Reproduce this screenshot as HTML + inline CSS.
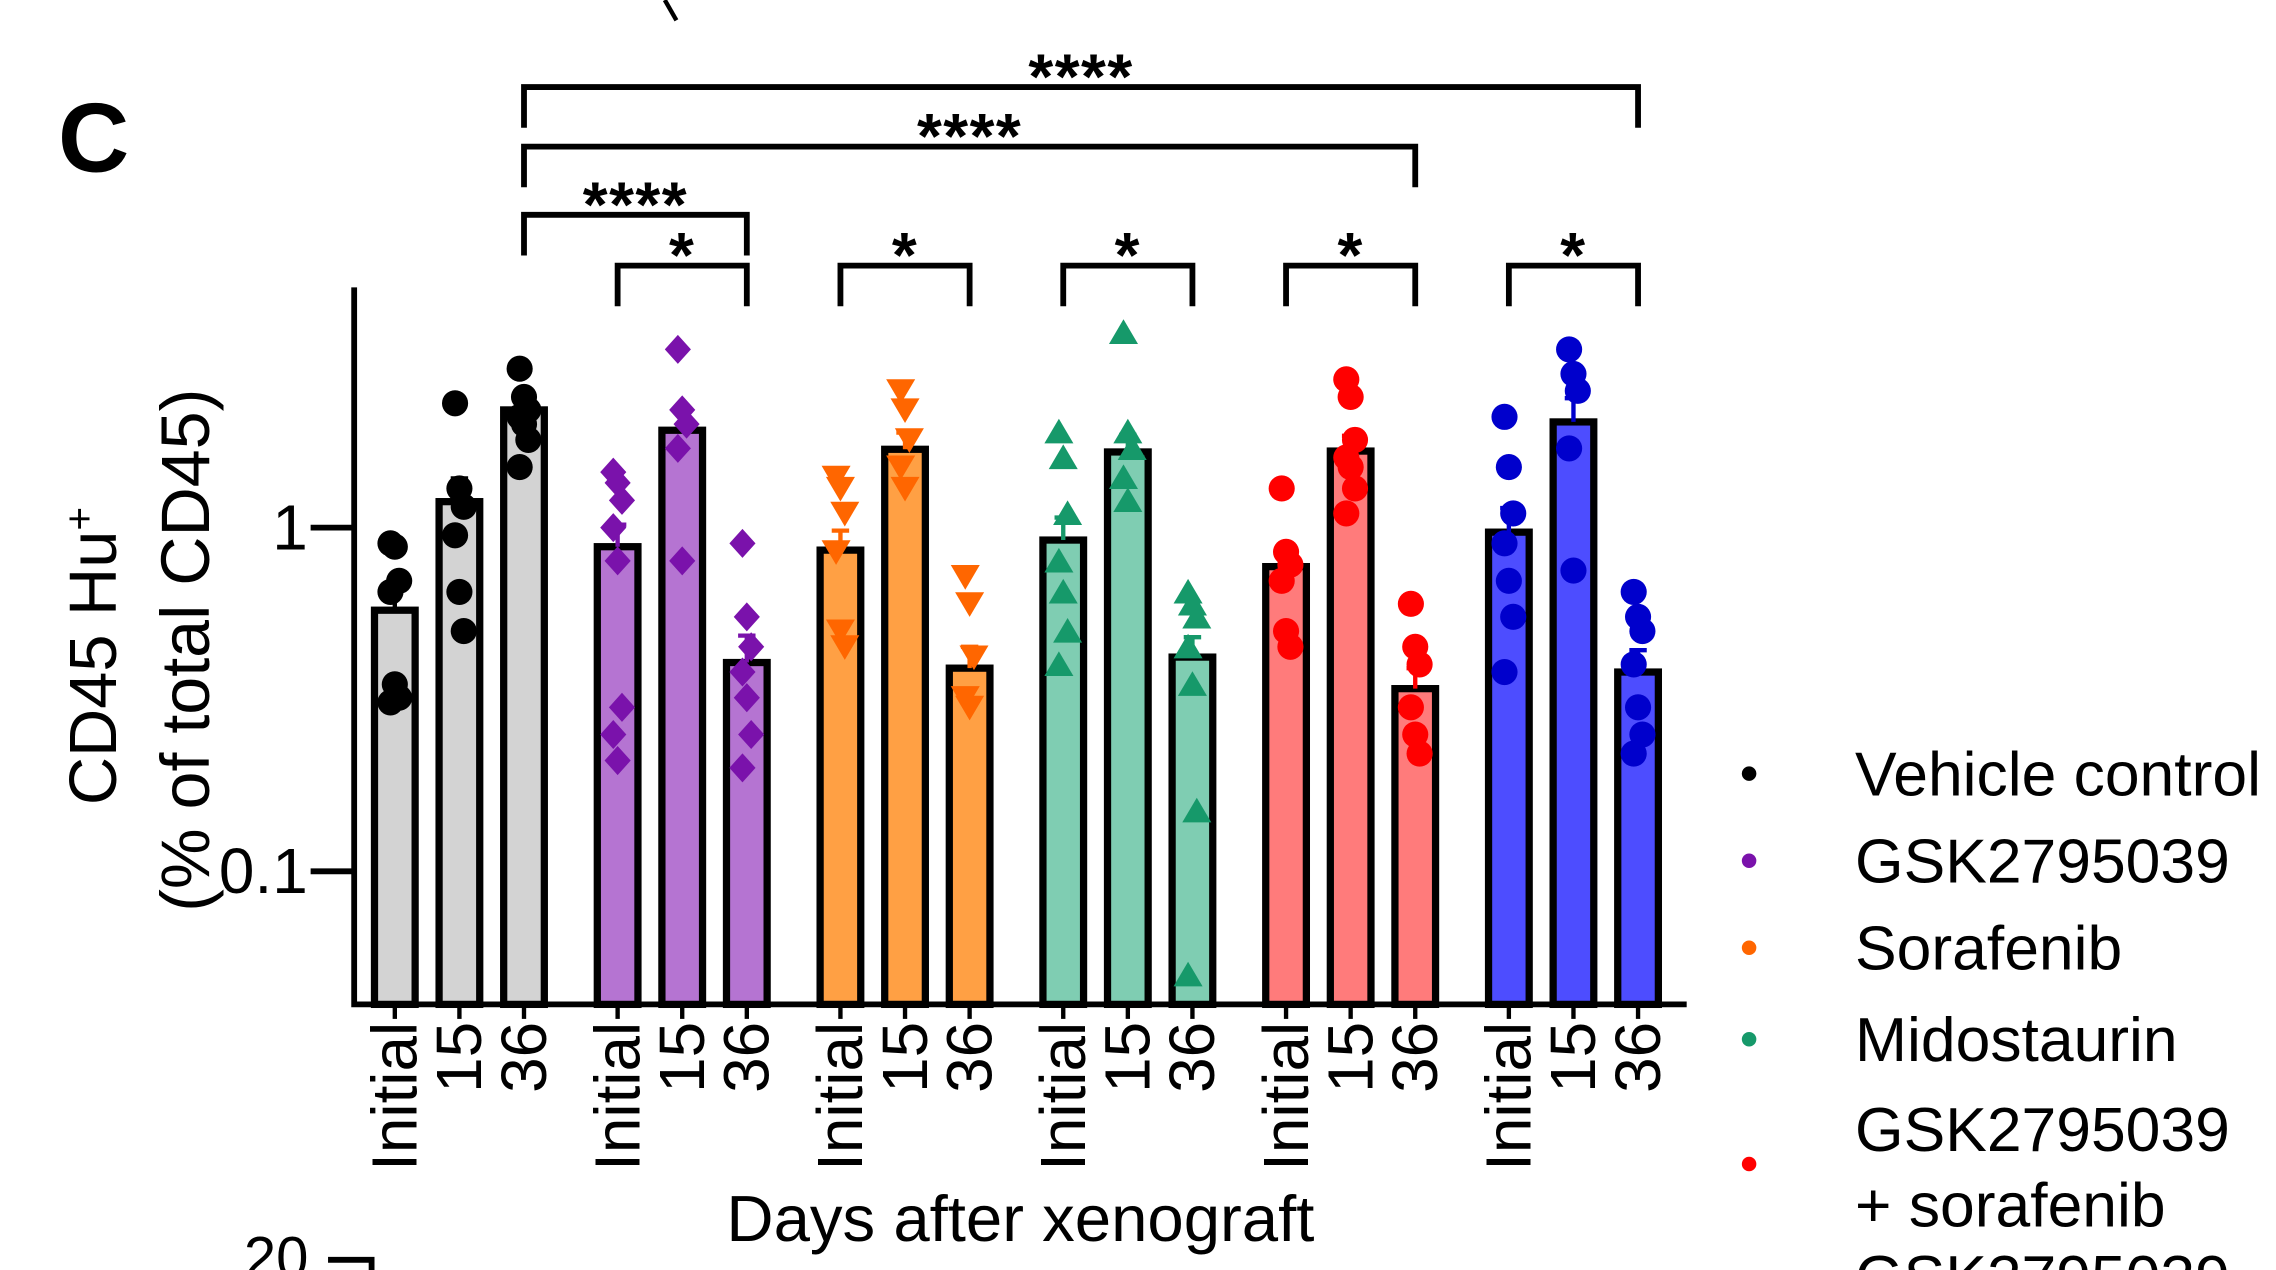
<!DOCTYPE html>
<html><head><meta charset="utf-8"><style>
html,body{margin:0;padding:0;background:#fff;}
svg{display:block;font-family:"Liberation Sans",Arial,sans-serif;}
</style></head><body>
<svg id="chart" width="2276" height="1270" viewBox="0 0 1568 875" preserveAspectRatio="none" xmlns="http://www.w3.org/2000/svg">
<text x="40" y="118" font-size="68" font-weight="bold">C</text>
<path d="M458 0 L466 14" stroke="#000" stroke-width="3" fill="none"/>
<g id="brackets"></g>
<g id="bars"></g>
<g id="axes"></g>
<text transform="translate(80,452) rotate(-90)" text-anchor="middle" font-size="46">CD45 Hu<tspan baseline-shift="super" font-size="28">+</tspan></text>
<text transform="translate(144,448) rotate(-90)" text-anchor="middle" font-size="47">(% of total CD45)</text>
<text x="703" y="855" text-anchor="middle" font-size="45">Days after xenograft</text>
<g id="legend"></g>
<text x="168" y="880" font-size="40">20</text>
<path d="M226 868 H256 V875" stroke="#000" stroke-width="4" fill="none"/>
</svg>
<script>
const groups = ["Vehicle control","GSK2795039","Sorafenib","Midostaurin","GSK2795039 + sorafenib","GSK2795039 + midostaurin"];
const timepoints = ["Initial","15","36"];
const means = [[0.575,1.19,2.2],[0.88,1.92,0.405],[0.86,1.69,0.39],[0.92,1.66,0.42],[0.77,1.67,0.34],[0.97,2.03,0.38]];
const sems = [[0.09,0.2,0.15],[0.14,0.3,0.08],[0.12,0.2,0.06],[0.15,0.2,0.06],[0.1,0.18,0.05],[0.17,0.35,0.06]];
const points = [
 [[0.9,0.88,0.7,0.65,0.35,0.32,0.31],[2.3,1.3,1.15,0.95,0.65,0.5],[2.9,2.4,2.2,2.1,2.0,1.8,1.5]],
 [[1.45,1.35,1.2,1.0,0.8,0.3,0.25,0.21],[3.3,2.2,2.0,1.7,0.8],[0.9,0.55,0.45,0.38,0.32,0.25,0.2]],
 [[1.4,1.3,1.1,0.85,0.5,0.45],[2.5,2.2,1.8,1.5,1.3],[0.72,0.6,0.42,0.32,0.3]],
 [[1.9,1.6,1.1,0.8,0.65,0.5,0.4],[3.7,1.9,1.7,1.4,1.2],[0.65,0.6,0.55,0.45,0.35,0.15,0.05]],
 [[1.3,0.85,0.78,0.7,0.5,0.45],[2.7,2.4,1.8,1.6,1.5,1.3,1.1],[0.6,0.45,0.4,0.3,0.25,0.22]],
 [[2.1,1.5,1.1,0.9,0.7,0.55,0.38],[3.3,2.8,2.5,1.7,0.75],[0.65,0.55,0.5,0.4,0.3,0.25,0.22]]
];
const yTicks = [1,0.1];
const yTickLabels = ["1","0.1"];
const legendLabels = ["Vehicle control","GSK2795039","Sorafenib","Midostaurin","GSK2795039","+ sorafenib","GSK2795039"];
const sigLabels = ["****","****","****","*","*","*","*","*"];

const NS="http://www.w3.org/2000/svg";
const barFill=["#d3d3d3","#b574d2","#ffa044","#7fcdb2","#ff7b7b","#4d4dff"];
const mkFill=["#000","#7a12ab","#ff6600","#16996a","#ff0000","#0000cc"];
const shapes=["circle","diamond","down","up","circle","circle"];
const yMin=0.041,yMax=5,py0=692,py1=198;
function y(v){const l=Math.log10(v);return py0-(l-Math.log10(yMin))/(Math.log10(yMax)-Math.log10(yMin))*(py0-py1);}
function x(g,t){return 272+g*153.5+t*44.5;}
function el(tag,attrs,parent){const e=document.createElementNS(NS,tag);for(const k in attrs)e.setAttribute(k,attrs[k]);parent.appendChild(e);return e;}
const bars=document.getElementById('bars'),axes=document.getElementById('axes'),br=document.getElementById('brackets'),lg=document.getElementById('legend');
const bw=28;
for(let g=0;g<groups.length;g++){for(let t=0;t<3;t++){
 const cx=x(g,t),top=y(means[g][t]);
 const r=el('rect',{x:cx-bw/2,y:top,width:bw,height:py0-top,fill:barFill[g],stroke:'#000','stroke-width':5},bars);
 
 
 const et=y(means[g][t]+sems[g][t]);
 const eb=el('path',{d:`M${cx} ${top} V${et} M${cx-6} ${et} H${cx+6}`,stroke:mkFill[g],'stroke-width':3,fill:'none'},bars);
 
 
 points[g][t].forEach((v,i)=>{
  const px=cx+((i%3)-1)*3,pyv=y(v),s=9;let m;
  if(shapes[g]=='circle')m=el('circle',{cx:px,cy:pyv,r:s,fill:mkFill[g]},bars);
  else if(shapes[g]=='diamond')m=el('path',{d:`M${px} ${pyv-s-1} L${px+s} ${pyv} L${px} ${pyv+s+1} L${px-s} ${pyv} Z`,fill:mkFill[g]},bars);
  else if(shapes[g]=='down')m=el('path',{d:`M${px-s-1} ${pyv-s+1} H${px+s+1} L${px} ${pyv+s} Z`,fill:mkFill[g]},bars);
  else m=el('path',{d:`M${px-s-1} ${pyv+s-1} H${px+s+1} L${px} ${pyv-s} Z`,fill:mkFill[g]},bars);
  
  
 });
 const tk=el('line',{x1:cx,x2:cx,y1:py0,y2:py0+10,stroke:'#000','stroke-width':3},axes);
 
 
 const lb=el('text',{transform:`translate(${cx+15},${py0+12}) rotate(-90)`,'text-anchor':'end','font-size':44},axes);
 
 
 lb.textContent=timepoints[t];
}}
const ya=el('path',{d:`M244 ${py1} V${py0} H1162`,stroke:'#000','stroke-width':4,fill:'none'},axes);


yTicks.forEach((v,i)=>{
 const t=el('line',{x1:214,x2:244,y1:y(v),y2:y(v),stroke:'#000','stroke-width':4},axes);
 
 
 const l=el('text',{x:212,y:y(v)+15,'text-anchor':'end','font-size':44},axes);
 
 
 l.textContent=yTickLabels[i];
});
const bk=[[0,2,5,2,60],[0,2,4,2,101],[0,2,1,2,148],[1,0,1,2,183],[2,0,2,2,183],[3,0,3,2,183],[4,0,4,2,183],[5,0,5,2,183]];
bk.forEach((b,i)=>{
 const x1=x(b[0],b[1]),x2=x(b[2],b[3]),yy=b[4],leg=28;
 const p=el('path',{d:`M${x1} ${yy+leg} V${yy} H${x2} V${yy+leg}`,stroke:'#000','stroke-width':4,fill:'none'},br);
 
 
 const t=el('text',{x:(x1+x2)/2,y:yy+8,'text-anchor':'middle','font-size':44,'font-weight':'bold','letter-spacing':'1'},br);
 
 
 t.textContent=sigLabels[i];
});
const lgY=[533,593,653,716,778,830,880],lgDot=[0,1,2,3,4,-1,5];
legendLabels.forEach((s,i)=>{
 if(lgDot[i]>=0){const d=el('circle',{cx:1205,cy:lgY[i]+(i==4?24:0),r:5,fill:mkFill[lgDot[i]]},lg);
  
  }
 const t=el('text',{x:1278,y:lgY[i]+15,'font-size':43},lg);
 
 
 t.textContent=s;
});
</script>
</body></html>
